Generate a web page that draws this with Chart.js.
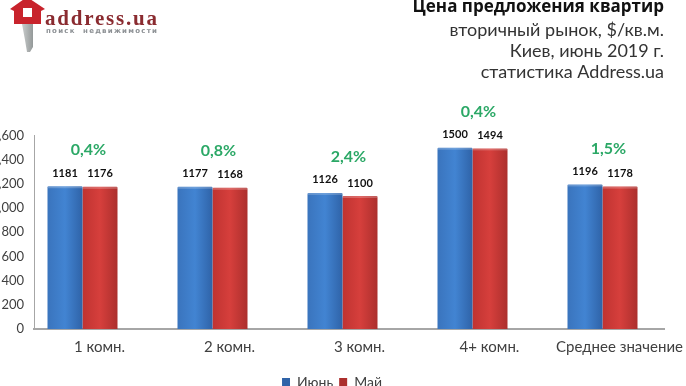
<!DOCTYPE html>
<html>
<head>
<meta charset="utf-8">
<style>
  html, body { margin: 0; padding: 0; background: #fff; overflow: hidden; }
  canvas { display: block; }
</style>
<script src="https://cdn.jsdelivr.net/npm/chart.js@4/dist/chart.umd.min.js"></script>
</head>
<body>
<canvas id="priceBar" width="686" height="386"></canvas>
<script>
var categories = ["1 комн.", "2 комн.", "3 комн.", "4+ комн.", "Среднее значение"];
var juneValues = [1181, 1177, 1126, 1500, 1196];
var mayValues = [1176, 1168, 1100, 1494, 1178];
var changeLabels = ["0,4%", "0,8%", "2,4%", "0,4%", "1,5%"];
var yTicks = [0, 200, 400, 600, 800, 1000, 1200, 1400, 1600];

var LABEL_FONT = "Lato, 'Open Sans', sans-serif";

// bars get a soft left-to-right shading
const barGradient = (ctx, colors) => {
  var chart = ctx.chart;
  if (!chart.chartArea || !ctx.parsed) return colors[1];
  var c = chart.scales.x.getPixelForValue(ctx.parsed.x);
  var x0 = ctx.datasetIndex === 0 ? c - 35 : c;
  var g = chart.ctx.createLinearGradient(x0, 0, x0 + 35, 0);
  g.addColorStop(0, colors[0]);
  g.addColorStop(0.5, colors[1]);
  g.addColorStop(1, colors[2]);
  return g;
};

// logo in the top left corner
var logoPlugin = {
  id: "logo",
  afterDraw(chart) {
    var c = chart.ctx;
    c.save();
    var key = c.createLinearGradient(22, 0, 34, 0);
    key.addColorStop(0, "#c9cccc");
    key.addColorStop(1, "#8f9494");
    c.fillStyle = key;
    c.beginPath();
    c.moveTo(22, 24); c.lineTo(33, 24); c.lineTo(33, 47); c.lineTo(30, 52);
    c.lineTo(27, 52); c.lineTo(25, 40); c.closePath();
    c.fill();
    c.fillStyle = "#c8232c";
    c.beginPath();
    c.moveTo(27, -3); c.lineTo(45, 9); c.lineTo(41, 11); c.lineTo(41, 24);
    c.lineTo(14, 24); c.lineTo(14, 11); c.lineTo(10, 9); c.closePath();
    c.fill();
    c.fillStyle = "#fff";
    c.fillRect(23, 8, 9, 9);
    c.textBaseline = "alphabetic";
    c.textAlign = "left";
    c.fillStyle = "#8a2b30";
    c.font = "bold 21px 'Liberation Serif'";
    c.letterSpacing = "1.8px";
    c.fillText("address.ua", 45, 25);
    c.fillStyle = "#8b8f93";
    c.font = "bold 7px 'DejaVu Sans'";
    c.letterSpacing = "1.25px";
    c.fillText("поиск  недвижимости", 46, 33);
    c.restore();
  }
};

// value labels over the bars and the green change above each group
var barLabels = {
  id: "barLabels",
  afterDatasetsDraw(chart) {
    var c = chart.ctx;
    c.save();
    var tops = [];
    chart.data.datasets.forEach(function(ds, d) {
      chart.getDatasetMeta(d).data.forEach(function(bar, i) {
        // lighter bevel along the bar top
        c.fillStyle = "rgba(255, 255, 255, 0.22)";
        c.fillRect(bar.x - bar.width / 2, bar.y, bar.width, 2);
        tops[i] = Math.min(tops[i] === undefined ? 9999 : tops[i], bar.y);
      });
    });
    c.textAlign = "center";
    c.textBaseline = "middle";
    c.font = "bold 11px " + LABEL_FONT;
    c.fillStyle = "#111";
    chart.data.datasets.forEach(function(ds, d) {
      chart.getDatasetMeta(d).data.forEach(function(bar, i) {
        c.fillText(String(ds.data[i].y), bar.x, bar.y - 13);
      });
    });
    c.font = "bold 16px " + LABEL_FONT;
    c.fillStyle = "#2ba866";
    changeLabels.forEach(function(t, i) {
      c.fillText(t, chart.scales.x.getPixelForValue(i) + 6, tops[i] - 36);
    });
    c.restore();
  }
};

var barChartData = {
  datasets: [
    {
      label: "Июнь",
      data: juneValues.map((v, i) => ({ x: i, y: v })),
      backgroundColor: (ctx) => barGradient(ctx, ["#3a74bd", "#4284d2", "#2f63a8"]),
      borderWidth: 0,
      borderRadius: 1
    },
    {
      label: "Май",
      data: mayValues.map((v, i) => ({ x: i, y: v })),
      backgroundColor: (ctx) => barGradient(ctx, ["#bf3331", "#d63f3c", "#ac2f2d"]),
      borderWidth: 0,
      borderRadius: 1
    }
  ]
};

var chartOptions = {
  responsive: false,
  animation: false,
  layout: { padding: { left: 0, right: 22, top: -3, bottom: -13 } },
  datasets: { bar: { categoryPercentage: 70 / 130, barPercentage: 1 } },
  scales: {
    x: {
      type: "linear",
      offset: false,
      min: (34 - 82.5) / 130,
      max: (664 - 82.5) / 130,
      grid: { display: false, drawTicks: false },
      border: { color: "#a6a6a6", width: 2 },
      afterFit(scale) { scale.height = 40; scale.paddingLeft = 0; scale.paddingRight = 0; },
      ticks: {
        stepSize: 1,
        includeBounds: false,
        autoSkip: false,
        maxRotation: 0,
        padding: 9,
        labelOffset: 17,
        color: "#404040",
        font: { family: LABEL_FONT, size: 15 },
        callback: (v) => (Number.isInteger(v) ? categories[v] : "")
      }
    },
    y: {
      min: 0,
      max: 1600,
      grid: { display: false, drawTicks: false },
      border: { color: "#a6a6a6", width: 1 },
      afterFit(scale) { scale.width = 34; },
      afterBuildTicks(scale) { scale.ticks = yTicks.map((v) => ({ value: v })); },
      ticks: {
        padding: 10,
        color: "#404040",
        font: { family: LABEL_FONT, size: 13 }
      }
    }
  },
  plugins: {
    title: {
      display: true,
      text: "Цена предложения квартир",
      align: "end",
      color: "#111",
      font: { family: "'Open Sans', sans-serif", size: 17, weight: "bold", lineHeight: 1.2 },
      padding: { top: 0, bottom: 2 }
    },
    subtitle: {
      display: true,
      text: ["вторичный рынок, $/кв.м.", "Киев, июнь 2019 г.", "статистика Address.ua"],
      align: "end",
      color: "#333",
      font: { family: LABEL_FONT, size: 18, lineHeight: 1.17 },
      padding: { top: 0, bottom: 53 }
    },
    legend: {
      position: "bottom",
      labels: {
        boxWidth: 8,
        boxHeight: 8,
        padding: 6,
        color: "#404040",
        font: { family: LABEL_FONT, size: 14 }
      }
    },
    tooltip: { enabled: false }
  }
};

var ctx = document.getElementById("priceBar").getContext("2d");
let myBar = new Chart(ctx, {
  type: "bar",
  data: barChartData,
  options: chartOptions,
  plugins: [logoPlugin, barLabels]
});
</script>
</body>
</html>
